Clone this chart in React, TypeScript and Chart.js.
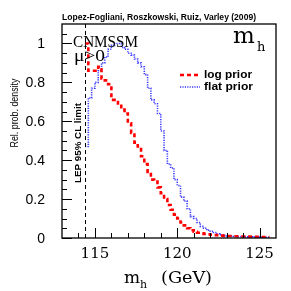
import { useEffect, useRef } from "react";
import { Chart, registerables } from "chart.js";

Chart.register(...registerables);

// Bin left edges (GeV); last entry is the right edge of the last bin
const massGeV = [
  114.4, 114.6, 114.8, 115.0, 115.2, 115.4, 115.6, 115.8, 116.0, 116.2,
  116.4, 116.6, 116.8, 117.0, 117.2, 117.4, 117.6, 117.8, 118.0, 118.2,
  118.4, 118.6, 118.8, 119.0, 119.2, 119.4, 119.6, 119.8, 120.0, 120.2,
  120.4, 120.6, 120.8, 121.0, 121.2, 121.4, 121.6, 121.8, 122.0, 122.2,
  122.4, 122.6, 122.8, 123.0, 123.2, 123.4, 123.6, 123.8, 124.0, 124.2,
  124.4, 124.6, 124.8, 125.0, 125.2, 125.4, 125.6,
];

const logPrior = [
  1.0, 0.86, 0.86, 0.86, 0.88, 0.82, 0.81, 0.79, 0.71, 0.71,
  0.68, 0.66, 0.64, 0.59, 0.54, 0.49, 0.47, 0.42, 0.38, 0.34,
  0.30, 0.29, 0.26, 0.23, 0.20, 0.17, 0.145, 0.12, 0.10, 0.08,
  0.065, 0.05, 0.04, 0.032, 0.027, 0.024, 0.021, 0.019, 0.017, 0.015,
  0.014, 0.012, 0.011, 0.010, 0.010, 0.009, 0.009, 0.008, 0.008, 0.007,
  0.007, 0.006, 0.006, 0.005, 0.005, 0.005, 0.005,
];

const flatPrior = [
  0.47, 0.72, 0.77, 0.80, 0.86, 0.90, 0.93, 0.97, 0.99, 1.0,
  1.0, 0.98, 0.97, 0.95, 0.94, 0.92, 0.90, 0.88, 0.84, 0.77,
  0.71, 0.69, 0.64, 0.55, 0.45, 0.38, 0.36, 0.30, 0.27, 0.21,
  0.19, 0.15, 0.11, 0.10, 0.08, 0.06, 0.05, 0.04, 0.035, 0.028,
  0.022, 0.016, 0.013, 0.011, 0.010, 0.009, 0.008, 0.008, 0.007, 0.006,
  0.006, 0.005, 0.005, 0.004, 0.004, 0.003, 0.003,
];

const seriesLabels = ["log prior", "flat prior"];
const xMajorTicks = [115, 120, 125];
const xMajorLabels = ["115", "120", "125"];
const xMinorTicks = [114, 116, 117, 118, 119, 121, 122, 123, 124];
const yMajorTicks = [0, 0.2, 0.4, 0.6, 0.8, 1];
const yMajorLabels = ["0", "0.2", "0.4", "0.6", "0.8", "1"];
const yMinorTicks = [
  0.05, 0.1, 0.15, 0.25, 0.3, 0.35, 0.45, 0.5, 0.55, 0.65, 0.7, 0.75,
  0.85, 0.9, 0.95, 1.05,
];
const lepLimit = 114.4;
const creditText = "Lopez-Fogliani, Roszkowski, Ruiz, Varley (2009)";
const modelText = "CNMSSM";
const muText = "\u03bc>0";
const lepText = "LEP 95% CL limit";
const yTitle = "Rel. prob. density";

const RED = "#ff0000";
const BLUE = "#3a3aff";

function fitText(
  ctx: CanvasRenderingContext2D,
  text: string,
  x: number,
  y: number,
  font: string,
  width: number,
  align: CanvasTextAlign = "left",
  baseline: CanvasTextBaseline = "alphabetic",
  rotate = 0
) {
  ctx.save();
  ctx.font = font;
  const w = ctx.measureText(text).width;
  ctx.translate(x, y);
  if (rotate) ctx.rotate(rotate);
  ctx.scale(width / w, 1);
  ctx.textAlign = align;
  ctx.textBaseline = baseline;
  ctx.fillText(text, 0, 0);
  ctx.restore();
}

const overlay = {
  id: "overlay",
  afterDatasetsDraw(chart: any) {
    const { ctx, chartArea: a, scales } = chart;
    const xs = scales.x;
    const ys = scales.y;
    ctx.save();
    ctx.fillStyle = "#000";
    ctx.strokeStyle = "#000";

    // LEP limit line
    const lx = Math.round(xs.getPixelForValue(lepLimit)) + 0.5;
    ctx.lineWidth = 1;
    ctx.setLineDash([4, 3]);
    ctx.beginPath();
    ctx.moveTo(lx, a.bottom);
    ctx.lineTo(lx, a.top);
    ctx.stroke();
    ctx.setLineDash([]);

    // ticks
    ctx.lineWidth = 1;
    ctx.beginPath();
    xMajorTicks.forEach((v) => {
      const px = Math.round(xs.getPixelForValue(v)) + 0.5;
      ctx.moveTo(px, a.bottom);
      ctx.lineTo(px, a.bottom - 10);
    });
    xMinorTicks.forEach((v) => {
      const px = Math.round(xs.getPixelForValue(v)) + 0.5;
      ctx.moveTo(px, a.bottom);
      ctx.lineTo(px, a.bottom - 5);
    });
    yMajorTicks.forEach((v) => {
      const py = Math.round(ys.getPixelForValue(v)) + 0.5;
      ctx.moveTo(a.left, py);
      ctx.lineTo(a.left + 10, py);
    });
    yMinorTicks.forEach((v) => {
      const py = Math.round(ys.getPixelForValue(v)) + 0.5;
      ctx.moveTo(a.left, py);
      ctx.lineTo(a.left + 5, py);
    });
    ctx.stroke();

    // frame
    ctx.lineWidth = 1.3;
    ctx.strokeRect(a.left, a.top, a.right - a.left, a.bottom - a.top);

    // tick labels
    ctx.font = '15px "DejaVu Serif"';
    ctx.textAlign = "center";
    ctx.textBaseline = "middle";
    xMajorTicks.forEach((v, i) => {
      ctx.fillText(xMajorLabels[i], xs.getPixelForValue(v), a.bottom + 16);
    });
    ctx.font = '14px "Liberation Sans"';
    ctx.textAlign = "right";
    yMajorTicks.forEach((v, i) => {
      ctx.fillText(yMajorLabels[i], a.left - 17, ys.getPixelForValue(v) + 1);
    });

    // axis titles
    ctx.textAlign = "left";
    ctx.textBaseline = "alphabetic";
    ctx.font = '17px "DejaVu Serif"';
    ctx.fillText("m", 124, 283);
    ctx.font = '11px "DejaVu Serif"';
    ctx.fillText("h", 140, 288);
    fitText(ctx, "(GeV)", 161, 283, '17px "DejaVu Serif"', 51);
    fitText(ctx, yTitle, 15, 113, '10px "Liberation Sans"', 69, "center", "middle", -Math.PI / 2);

    // credit
    fitText(ctx, creditText, 62, 19.5, 'bold 9px "Liberation Sans"', 194);

    // CNMSSM, mu>0
    fitText(ctx, modelText, 73, 47, '17px "Liberation Serif"', 65);
    fitText(ctx, muText, 74, 61, '17px "Liberation Serif"', 31);

    // m_h top-right
    ctx.font = '23px "DejaVu Serif"';
    ctx.fillText("m", 233, 43);
    ctx.font = '13px "DejaVu Serif"';
    ctx.fillText("h", 257, 51);

    // LEP text
    fitText(ctx, lepText, 78.5, 143, 'bold 9px "Liberation Sans"', 80, "center", "middle", -Math.PI / 2);

    // legend
    const ds = chart.data.datasets;
    const legY = [75, 87];
    ds.forEach((d: any, i: number) => {
      ctx.save();
      ctx.strokeStyle = d.borderColor;
      ctx.lineWidth = d.borderWidth;
      ctx.setLineDash(d.borderDash);
      ctx.beginPath();
      ctx.moveTo(180, legY[i]);
      ctx.lineTo(200, legY[i]);
      ctx.stroke();
      ctx.restore();
      fitText(ctx, d.label, 204, legY[i], 'bold 11px "Liberation Sans"', 48 + i, "left", "middle");
    });

    ctx.restore();
  },
};

export default function App() {
  const ref = useRef<HTMLCanvasElement>(null);
  useEffect(() => {
    if (!ref.current) return;
    const chart = new Chart(ref.current, {
      type: "line",
      data: {
        datasets: [
          {
            label: seriesLabels[0],
            data: massGeV.map((m, i) => ({ x: m, y: logPrior[i] })),
            borderColor: RED,
            borderWidth: 2.6,
            borderDash: [4, 3],
            stepped: true,
            pointRadius: 0,
            fill: false,
          },
          {
            label: seriesLabels[1],
            data: massGeV.map((m, i) => ({ x: m, y: flatPrior[i] })),
            borderColor: BLUE,
            borderWidth: 1.6,
            borderDash: [1.2, 1.2],
            stepped: true,
            pointRadius: 0,
            fill: false,
          },
        ],
      },
      options: {
        responsive: false,
        maintainAspectRatio: false,
        animation: false,
        devicePixelRatio: 1,
        layout: { padding: { left: 62, right: 15, top: 24, bottom: 53 } },
        scales: {
          x: { type: "linear", min: 113, max: 126, display: false },
          y: { type: "linear", min: 0, max: 1.1, display: false },
        },
        plugins: { legend: { display: false }, tooltip: { enabled: false } },
      },
      plugins: [overlay],
    });
    return () => chart.destroy();
  }, []);
  return (
    <div style={{ position: "fixed", left: 0, top: 0, width: 291, height: 291, background: "#fff" }}>
      <canvas ref={ref} width={291} height={291} style={{ width: 291, height: 291 }} />
    </div>
  );
}
